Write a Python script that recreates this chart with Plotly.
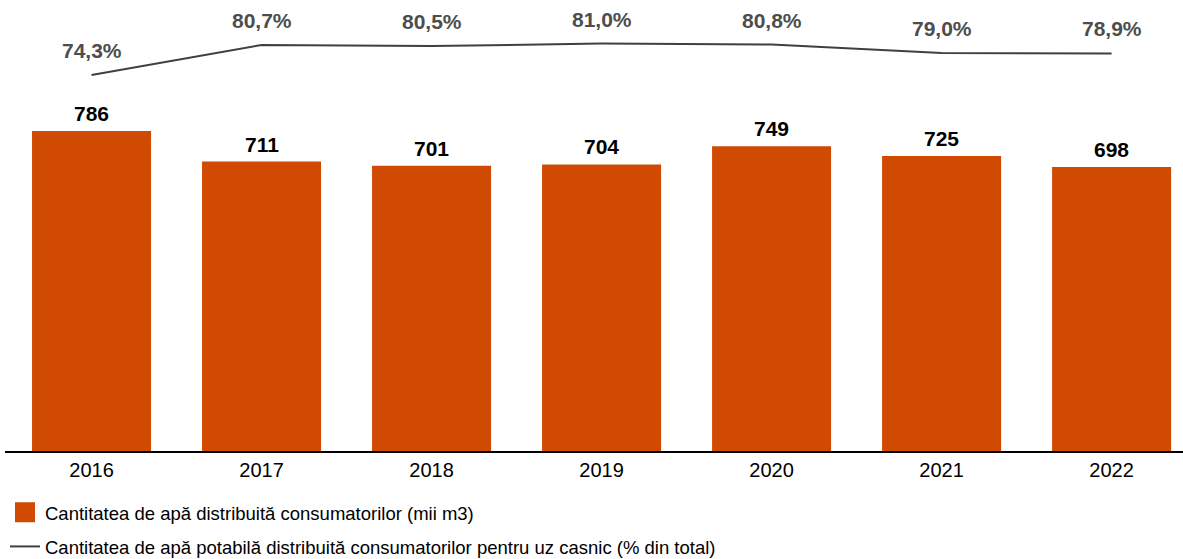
import plotly.graph_objects as go

years = ["2016", "2017", "2018", "2019", "2020", "2021", "2022"]
volumes = [786, 711, 701, 704, 749, 725, 698]
shares = [74.3, 80.7, 80.5, 81.0, 80.8, 79.0, 78.9]
share_labels = ["74,3%", "80,7%", "80,5%", "81,0%", "80,8%", "79,0%", "78,9%"]

bar_name = "Cantitatea de apă distribuită consumatorilor (mii m3)"
line_name = "Cantitatea de apă potabilă distribuită consumatorilor pentru uz casnic (% din total)"

FONT = "Liberation Sans, Arial, sans-serif"
ORANGE = "#D04A02"
GRAY = "#404040"

xs = list(range(len(years)))

fig = go.Figure()
fig.add_trace(go.Bar(
    x=xs, y=volumes, name=bar_name, showlegend=False,
    marker=dict(color=ORANGE, line=dict(width=0)), width=0.7,
    hoverinfo="skip",
))
# legend entry for the bars (larger square swatch)
fig.add_trace(go.Scatter(
    x=[None], y=[None], name=bar_name, mode="markers", legendgroup="a",
    marker=dict(symbol="square", size=16, color=ORANGE,
                line=dict(color=ORANGE, width=4)),
))
fig.add_trace(go.Scatter(
    x=xs, y=shares, name=line_name, yaxis="y2", legendgroup="b",
    mode="lines", line=dict(color=GRAY, width=2), hoverinfo="skip",
))

annotations = []
for i, v in enumerate(volumes):
    annotations.append(dict(
        x=i, y=v, xref="x", yref="y", text=f"<b>{v}</b>", showarrow=False,
        yanchor="bottom", yshift=4, font=dict(family=FONT, size=21, color="#000000"),
    ))
for i, (v, t) in enumerate(zip(shares, share_labels)):
    annotations.append(dict(
        x=i, y=v, xref="x", yref="y2", text=f"<b>{t}</b>", showarrow=False,
        yanchor="bottom", yshift=11, font=dict(family=FONT, size=21, color="#4d4d4d"),
    ))

fig.update_layout(
    width=1183, height=559,
    margin=dict(l=5, r=0, t=0, b=108, autoexpand=False),
    paper_bgcolor="white", plot_bgcolor="white",
    font=dict(family=FONT, size=18.5, color="#000000"),
    xaxis=dict(
        tickmode="array", tickvals=xs, ticktext=years,
        range=[-0.509, 6.42], showline=True, linecolor="#000000", linewidth=1.5,
        showgrid=False, zeroline=False, ticks="", tickfont=dict(size=20),
        automargin=False,
    ),
    yaxis=dict(range=[0, 1108], visible=False, showgrid=False, zeroline=False),
    yaxis2=dict(range=[-5.87, 90.3], overlaying="y", visible=False,
                showgrid=False, zeroline=False),
    showlegend=True,
    legend=dict(
        orientation="v", x=0, xanchor="left", y=-0.095, yanchor="top",
        font=dict(size=18.5, color="#000000"), traceorder="grouped",
        bgcolor="rgba(0,0,0,0)", tracegroupgap=7, itemsizing="trace",
    ),
    annotations=annotations,
)

fig.write_html("out.html", config={"displayModeBar": False},
               post_script="document.body.style.margin='0';")
